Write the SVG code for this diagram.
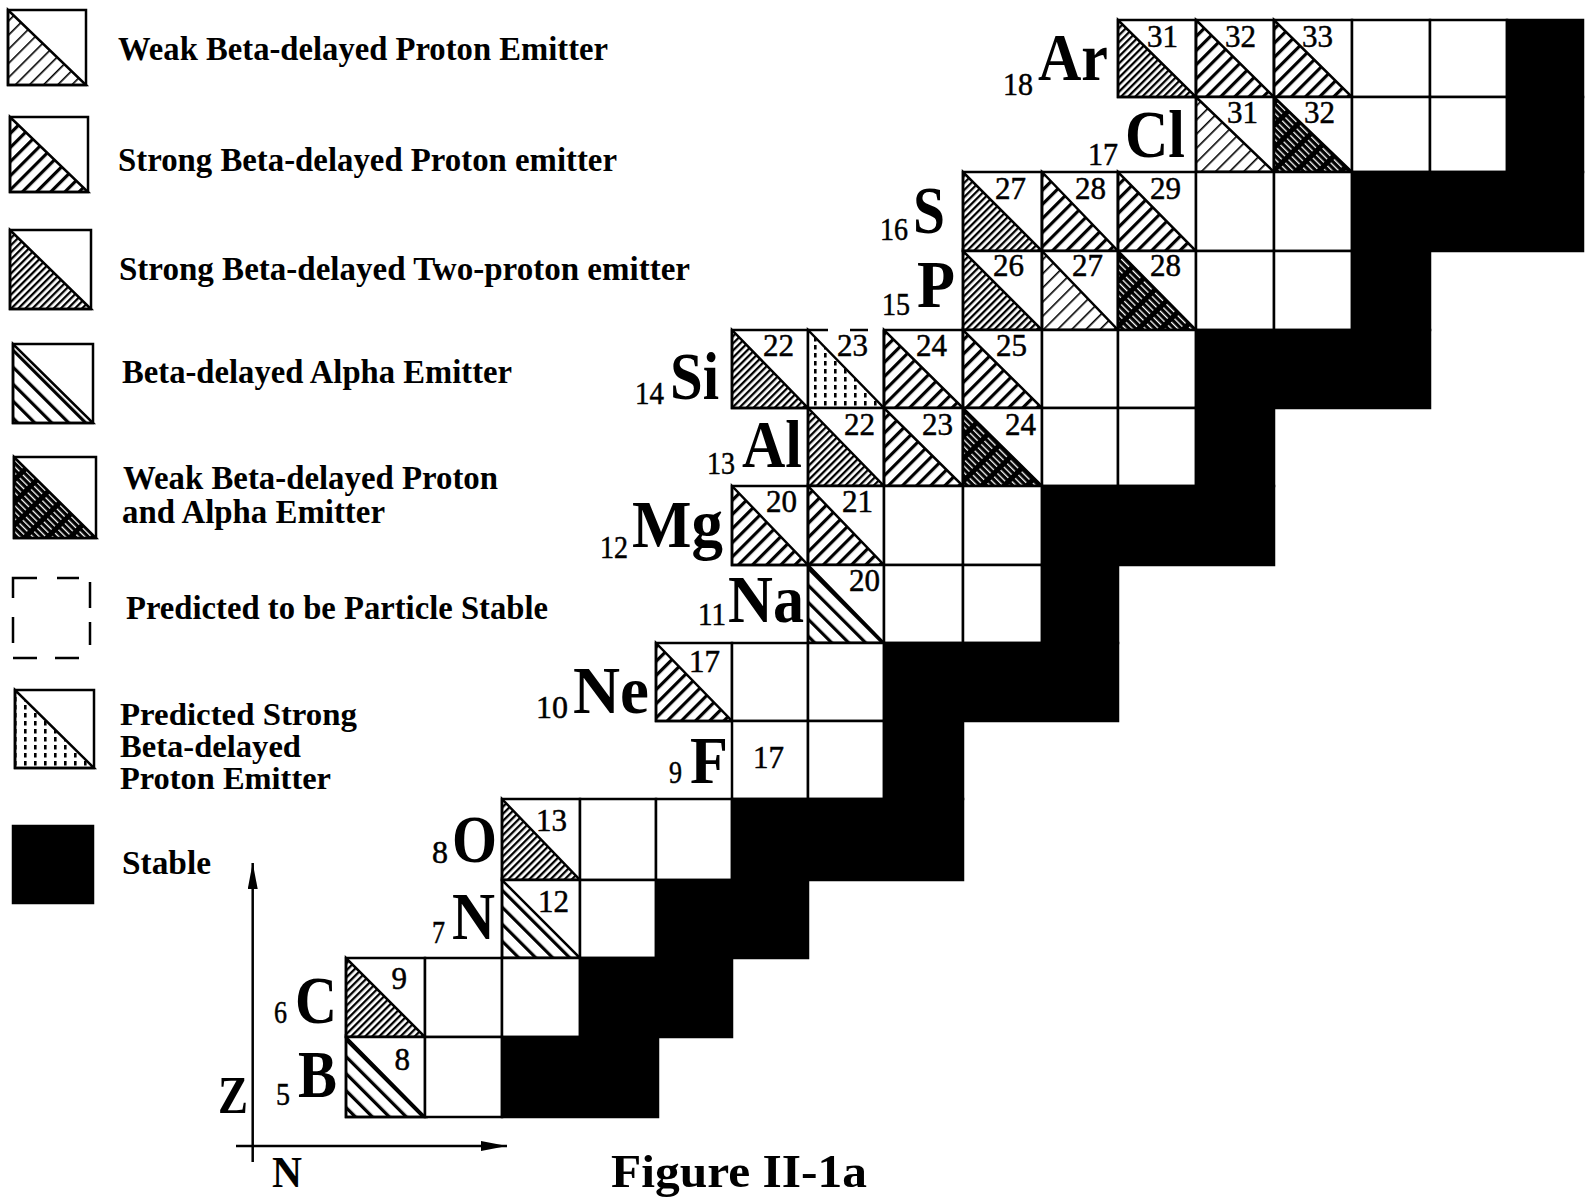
<svg xmlns="http://www.w3.org/2000/svg" width="1585" height="1198" viewBox="0 0 1585 1198">
<style>
.c{fill:#fff;stroke:#000;stroke-width:2.5}
.k{fill:#000;stroke:#000;stroke-width:2.5}
.h{stroke:#000;stroke-width:2.5;stroke-linejoin:miter}
.e{fill:none;stroke:#000;stroke-width:2.5}
text{font-family:"Liberation Serif","Times New Roman",serif;fill:#000}
.m{font-size:31px;text-anchor:end;stroke:#000;stroke-width:0.5}
.el{font-size:68px;font-weight:bold}
.sb{font-size:31px;stroke:#000;stroke-width:0.5}
.lg{font-size:33px;font-weight:bold}
.lg2{font-size:31px;font-weight:bold}
.ax{font-weight:bold}
</style>
<defs>
<pattern id="pw" width="10" height="10" patternUnits="userSpaceOnUse" patternTransform="rotate(45)"><rect width="1.6" height="10" fill="#000"/></pattern>
<pattern id="ps" width="10" height="10" patternUnits="userSpaceOnUse" patternTransform="rotate(45)"><rect width="3.2" height="10" fill="#000"/></pattern>
<pattern id="p2" width="5" height="5" patternUnits="userSpaceOnUse" patternTransform="rotate(45)"><rect width="2.3" height="5" fill="#000"/></pattern>
<pattern id="pa" width="12" height="12" patternUnits="userSpaceOnUse" patternTransform="rotate(-45)"><rect width="3.2" height="12" fill="#000"/></pattern>
<pattern id="pc" width="4.6" height="16" patternUnits="userSpaceOnUse" patternTransform="rotate(-45)"><rect width="4.6" height="16" fill="#000"/><rect x="1.8" width="1.3" height="11" fill="#fff"/></pattern>
<pattern id="pd" width="10" height="8" patternUnits="userSpaceOnUse"><rect x="4" y="1" width="2.6" height="4.5" fill="#000"/></pattern>
<marker id="arr" viewBox="0 0 26 10" refX="26" refY="5" markerWidth="26" markerHeight="10" markerUnits="userSpaceOnUse" orient="auto"><path d="M0 0L26 5L0 10Z" fill="#000"/></marker>
</defs>
<rect width="1585" height="1198" fill="#fff"/>

<g id="legend">
<g id="legend-weak-proton"><rect class="c" x="8" y="10" width="78" height="75"/><path class="h" fill="url(#pw)" d="M8 10V85H86Z"/><text class="lg" x="118" y="60" textLength="490" lengthAdjust="spacingAndGlyphs">Weak Beta-delayed Proton Emitter</text></g>
<g id="legend-strong-proton"><rect class="c" x="10" y="117" width="78" height="75"/><path class="h" fill="url(#ps)" d="M10 117V192H88Z"/><text class="lg" x="118" y="171" textLength="499" lengthAdjust="spacingAndGlyphs">Strong Beta-delayed Proton emitter</text></g>
<g id="legend-two-proton"><rect class="c" x="10" y="230" width="81" height="79"/><path class="h" fill="url(#p2)" d="M10 230V309H91Z"/><text class="lg" x="119" y="280" textLength="571" lengthAdjust="spacingAndGlyphs">Strong Beta-delayed Two-proton emitter</text></g>
<g id="legend-alpha"><rect class="c" x="13" y="344" width="80" height="79"/><path class="h" fill="url(#pa)" d="M13 344V423H93Z"/><text class="lg" x="122" y="383" textLength="390" lengthAdjust="spacingAndGlyphs">Beta-delayed Alpha Emitter</text></g>
<g id="legend-proton-alpha"><rect class="c" x="14" y="457" width="82" height="81"/><path class="h" fill="url(#pc)" d="M14 457V538H96Z"/><text class="lg" x="123" y="489" textLength="375" lengthAdjust="spacingAndGlyphs">Weak Beta-delayed Proton</text><text class="lg" x="122" y="523" textLength="263" lengthAdjust="spacingAndGlyphs">and Alpha Emitter</text></g>
<g id="legend-predicted-stable"><path class="e" d="M13 598V578H37M57 578H79M90 582V608M90 622V645M13 617V643M13 658H37M55 658H79"/><text class="lg" x="126" y="619" textLength="422" lengthAdjust="spacingAndGlyphs">Predicted to be Particle Stable</text></g>
<g id="legend-predicted-strong"><rect class="c" x="15" y="690" width="79" height="78"/><path class="h" fill="url(#pd)" d="M15 690V768H94Z"/><text class="lg2" x="120" y="725" textLength="237" lengthAdjust="spacingAndGlyphs">Predicted Strong</text><text class="lg2" x="120" y="757" textLength="181" lengthAdjust="spacingAndGlyphs">Beta-delayed</text><text class="lg2" x="120" y="789" textLength="211" lengthAdjust="spacingAndGlyphs">Proton Emitter</text></g>
<g id="legend-stable"><rect class="k" x="13" y="826" width="80" height="77"/><text class="lg" x="122" y="874" textLength="89" lengthAdjust="spacingAndGlyphs">Stable</text></g>
</g>

<g id="chart">
<g id="Ar31"><rect class="c" x="1118" y="20" width="78" height="77"/><path class="h" fill="url(#p2)" d="M1118 20V97H1196Z"/><text class="m" x="1178" y="47">31</text></g>
<g id="Ar32"><rect class="c" x="1196" y="20" width="78" height="77"/><path class="h" fill="url(#ps)" d="M1196 20V97H1274Z"/><text class="m" x="1256" y="47">32</text></g>
<g id="Ar33"><rect class="c" x="1274" y="20" width="78" height="77"/><path class="h" fill="url(#ps)" d="M1274 20V97H1352Z"/><text class="m" x="1333" y="47">33</text></g>
<g id="Ar34"><rect class="c" x="1352" y="20" width="78" height="77"/></g>
<g id="Ar35"><rect class="c" x="1430" y="20" width="77" height="77"/></g>
<g id="Cl31"><rect class="c" x="1196" y="97" width="78" height="75"/><path class="h" fill="url(#pw)" d="M1196 97V172H1274Z"/><text class="m" x="1258" y="123">31</text></g>
<g id="Cl32"><rect class="c" x="1274" y="97" width="78" height="75"/><path class="h" fill="url(#pc)" d="M1274 97V172H1352Z"/><text class="m" x="1335" y="123">32</text></g>
<g id="Cl33"><rect class="c" x="1352" y="97" width="78" height="75"/></g>
<g id="Cl34"><rect class="c" x="1430" y="97" width="77" height="75"/></g>
<g id="S27"><rect class="c" x="963" y="172" width="79" height="79"/><path class="h" fill="url(#p2)" d="M963 172V251H1042Z"/><text class="m" x="1026" y="199">27</text></g>
<g id="S28"><rect class="c" x="1042" y="172" width="76" height="79"/><path class="h" fill="url(#ps)" d="M1042 172V251H1118Z"/><text class="m" x="1106" y="199">28</text></g>
<g id="S29"><rect class="c" x="1118" y="172" width="78" height="79"/><path class="h" fill="url(#ps)" d="M1118 172V251H1196Z"/><text class="m" x="1181" y="199">29</text></g>
<g id="S30"><rect class="c" x="1196" y="172" width="78" height="79"/></g>
<g id="S31"><rect class="c" x="1274" y="172" width="78" height="79"/></g>
<g id="P26"><rect class="c" x="963" y="251" width="79" height="79"/><path class="h" fill="url(#p2)" d="M963 251V330H1042Z"/><text class="m" x="1024" y="276">26</text></g>
<g id="P27"><rect class="c" x="1042" y="251" width="76" height="79"/><path class="h" fill="url(#pw)" d="M1042 251V330H1118Z"/><text class="m" x="1103" y="276">27</text></g>
<g id="P28"><rect class="c" x="1118" y="251" width="78" height="79"/><path class="h" fill="url(#pc)" d="M1118 251V330H1196Z"/><text class="m" x="1181" y="276">28</text></g>
<g id="P29"><rect class="c" x="1196" y="251" width="78" height="79"/></g>
<g id="P30"><rect class="c" x="1274" y="251" width="78" height="79"/></g>
<g id="Si22"><rect class="c" x="732" y="330" width="76" height="78"/><path class="h" fill="url(#p2)" d="M732 330V408H808Z"/><text class="m" x="794" y="356">22</text></g>
<g id="Si23"><rect x="808" y="330" width="76" height="78" fill="#fff"/><path class="h" fill="url(#pd)" d="M808 330V408H884Z"/><path class="e" d="M884 330V408M807 330H828M850 330H868"/><text class="m" x="868" y="356">23</text></g>
<g id="Si24"><rect class="c" x="884" y="330" width="79" height="78"/><path class="h" fill="url(#ps)" d="M884 330V408H963Z"/><text class="m" x="947" y="356">24</text></g>
<g id="Si25"><rect class="c" x="963" y="330" width="79" height="78"/><path class="h" fill="url(#ps)" d="M963 330V408H1042Z"/><text class="m" x="1027" y="356">25</text></g>
<g id="Si26"><rect class="c" x="1042" y="330" width="76" height="78"/></g>
<g id="Si27"><rect class="c" x="1118" y="330" width="78" height="78"/></g>
<g id="Al22"><rect class="c" x="808" y="408" width="76" height="78"/><path class="h" fill="url(#p2)" d="M808 408V486H884Z"/><text class="m" x="875" y="435">22</text></g>
<g id="Al23"><rect class="c" x="884" y="408" width="79" height="78"/><path class="h" fill="url(#ps)" d="M884 408V486H963Z"/><text class="m" x="953" y="435">23</text></g>
<g id="Al24"><rect class="c" x="963" y="408" width="79" height="78"/><path class="h" fill="url(#pc)" d="M963 408V486H1042Z"/><text class="m" x="1036" y="435">24</text></g>
<g id="Al25"><rect class="c" x="1042" y="408" width="76" height="78"/></g>
<g id="Al26"><rect class="c" x="1118" y="408" width="78" height="78"/></g>
<g id="Mg20"><rect class="c" x="732" y="486" width="76" height="79"/><path class="h" fill="url(#ps)" d="M732 486V565H808Z"/><text class="m" x="797" y="512">20</text></g>
<g id="Mg21"><rect class="c" x="808" y="486" width="76" height="79"/><path class="h" fill="url(#ps)" d="M808 486V565H884Z"/><text class="m" x="873" y="512">21</text></g>
<g id="Mg22"><rect class="c" x="884" y="486" width="79" height="79"/></g>
<g id="Mg23"><rect class="c" x="963" y="486" width="79" height="79"/></g>
<g id="Na20"><rect class="c" x="808" y="565" width="76" height="78"/><path class="h" fill="url(#pa)" d="M808 565V643H884Z"/><text class="m" x="880" y="591">20</text></g>
<g id="Na21"><rect class="c" x="884" y="565" width="79" height="78"/></g>
<g id="Na22"><rect class="c" x="963" y="565" width="79" height="78"/></g>
<g id="Ne17"><rect class="c" x="656" y="643" width="76" height="78"/><path class="h" fill="url(#ps)" d="M656 643V721H732Z"/><text class="m" x="720" y="672">17</text></g>
<g id="Ne18"><rect class="c" x="732" y="643" width="76" height="78"/></g>
<g id="Ne19"><rect class="c" x="808" y="643" width="76" height="78"/></g>
<g id="F17"><rect class="c" x="732" y="721" width="76" height="78"/><text class="sb" x="753" y="768">17</text></g>
<g id="F18"><rect class="c" x="808" y="721" width="76" height="78"/></g>
<g id="O13"><rect class="c" x="502" y="799" width="78" height="81"/><path class="h" fill="url(#p2)" d="M502 799V880H580Z"/><text class="m" x="567" y="831">13</text></g>
<g id="O14"><rect class="c" x="580" y="799" width="76" height="81"/></g>
<g id="O15"><rect class="c" x="656" y="799" width="76" height="81"/></g>
<g id="N12"><rect class="c" x="502" y="880" width="78" height="78"/><path class="h" fill="url(#pa)" d="M502 880V958H580Z"/><text class="m" x="569" y="912">12</text></g>
<g id="N13"><rect class="c" x="580" y="880" width="76" height="78"/></g>
<g id="C9"><rect class="c" x="346" y="958" width="79" height="79"/><path class="h" fill="url(#p2)" d="M346 958V1037H425Z"/><text class="m" x="407" y="989">9</text></g>
<g id="C10"><rect class="c" x="425" y="958" width="77" height="79"/></g>
<g id="C11"><rect class="c" x="502" y="958" width="78" height="79"/></g>
<g id="B8"><rect class="c" x="346" y="1037" width="79" height="80"/><path class="h" fill="url(#pa)" d="M346 1037V1117H425Z"/><text class="m" x="410" y="1070">8</text></g>
<g id="B9"><rect class="c" x="425" y="1037" width="77" height="80"/></g>
</g>

<g id="stable">
<g id="stable-Z5"><rect class="k" x="502" y="1037" width="156" height="80"/></g>
<g id="stable-Z6"><rect class="k" x="580" y="958" width="152" height="79"/></g>
<g id="stable-Z7"><rect class="k" x="656" y="880" width="152" height="78"/></g>
<g id="stable-Z8"><rect class="k" x="732" y="799" width="231" height="81"/></g>
<g id="stable-Z9"><rect class="k" x="884" y="721" width="79" height="78"/></g>
<g id="stable-Z10"><rect class="k" x="884" y="643" width="234" height="78"/></g>
<g id="stable-Z11"><rect class="k" x="1042" y="565" width="76" height="78"/></g>
<g id="stable-Z12"><rect class="k" x="1042" y="486" width="232" height="79"/></g>
<g id="stable-Z13"><rect class="k" x="1196" y="408" width="78" height="78"/></g>
<g id="stable-Z14"><rect class="k" x="1196" y="330" width="234" height="78"/></g>
<g id="stable-Z15"><rect class="k" x="1352" y="251" width="78" height="79"/></g>
<g id="stable-Z16"><rect class="k" x="1352" y="172" width="231" height="79"/></g>
<g id="stable-Z17"><rect class="k" x="1507" y="97" width="76" height="75"/></g>
<g id="stable-Z18"><rect class="k" x="1507" y="20" width="76" height="77"/></g>
</g>

<g id="labels">
<g id="label-Ar"><text class="sb" x="1003" y="95" textLength="30" lengthAdjust="spacingAndGlyphs">18</text><text class="el" x="1038" y="80" textLength="70" lengthAdjust="spacingAndGlyphs">Ar</text></g>
<g id="label-Cl"><text class="sb" x="1088" y="165" textLength="30" lengthAdjust="spacingAndGlyphs">17</text><text class="el" x="1125" y="157" textLength="60" lengthAdjust="spacingAndGlyphs">Cl</text></g>
<g id="label-S"><text class="sb" x="880" y="240" textLength="28" lengthAdjust="spacingAndGlyphs">16</text><text class="el" x="913" y="233" textLength="32" lengthAdjust="spacingAndGlyphs">S</text></g>
<g id="label-P"><text class="sb" x="882" y="315" textLength="28" lengthAdjust="spacingAndGlyphs">15</text><text class="el" x="917" y="307" textLength="38" lengthAdjust="spacingAndGlyphs">P</text></g>
<g id="label-Si"><text class="sb" x="635" y="404" textLength="29" lengthAdjust="spacingAndGlyphs">14</text><text class="el" x="670" y="399" textLength="49" lengthAdjust="spacingAndGlyphs">Si</text></g>
<g id="label-Al"><text class="sb" x="707" y="474" textLength="28" lengthAdjust="spacingAndGlyphs">13</text><text class="el" x="742" y="467" textLength="60" lengthAdjust="spacingAndGlyphs">Al</text></g>
<g id="label-Mg"><text class="sb" x="600" y="558" textLength="28" lengthAdjust="spacingAndGlyphs">12</text><text class="el" x="632" y="547" textLength="91" lengthAdjust="spacingAndGlyphs">Mg</text></g>
<g id="label-Na"><text class="sb" x="698" y="625" textLength="28" lengthAdjust="spacingAndGlyphs">11</text><text class="el" x="728" y="622" textLength="76" lengthAdjust="spacingAndGlyphs">Na</text></g>
<g id="label-Ne"><text class="sb" x="536" y="718" textLength="32" lengthAdjust="spacingAndGlyphs">10</text><text class="el" x="573" y="713" textLength="76" lengthAdjust="spacingAndGlyphs">Ne</text></g>
<g id="label-F"><text class="sb" x="669" y="783" textLength="13" lengthAdjust="spacingAndGlyphs">9</text><text class="el" x="690" y="783" textLength="38" lengthAdjust="spacingAndGlyphs">F</text></g>
<g id="label-O"><text class="sb" x="432" y="863" textLength="16" lengthAdjust="spacingAndGlyphs">8</text><text class="el" x="452" y="862" textLength="45" lengthAdjust="spacingAndGlyphs">O</text></g>
<g id="label-N"><text class="sb" x="432" y="943" textLength="13" lengthAdjust="spacingAndGlyphs">7</text><text class="el" x="452" y="939" textLength="43" lengthAdjust="spacingAndGlyphs">N</text></g>
<g id="label-C"><text class="sb" x="274" y="1023" textLength="13" lengthAdjust="spacingAndGlyphs">6</text><text class="el" x="295" y="1023" textLength="42" lengthAdjust="spacingAndGlyphs">C</text></g>
<g id="label-B"><text class="sb" x="276" y="1105" textLength="14" lengthAdjust="spacingAndGlyphs">5</text><text class="el" x="298" y="1097" textLength="39" lengthAdjust="spacingAndGlyphs">B</text></g>
</g>

<g id="connectors">
<path class="e" d="M252.7 1162V863" marker-end="url(#arr)"/>
<path class="e" d="M236 1146H507" marker-end="url(#arr)"/>
</g>
<g id="axis-labels">
<text class="ax" x="218" y="1113" font-size="53" textLength="30" lengthAdjust="spacingAndGlyphs">Z</text>
<text class="ax" x="272" y="1187" font-size="45" textLength="30" lengthAdjust="spacingAndGlyphs">N</text>
</g>
<g id="title"><text class="ax" x="611" y="1187" font-size="47" textLength="256" lengthAdjust="spacingAndGlyphs">Figure II-1a</text></g>
</svg>
